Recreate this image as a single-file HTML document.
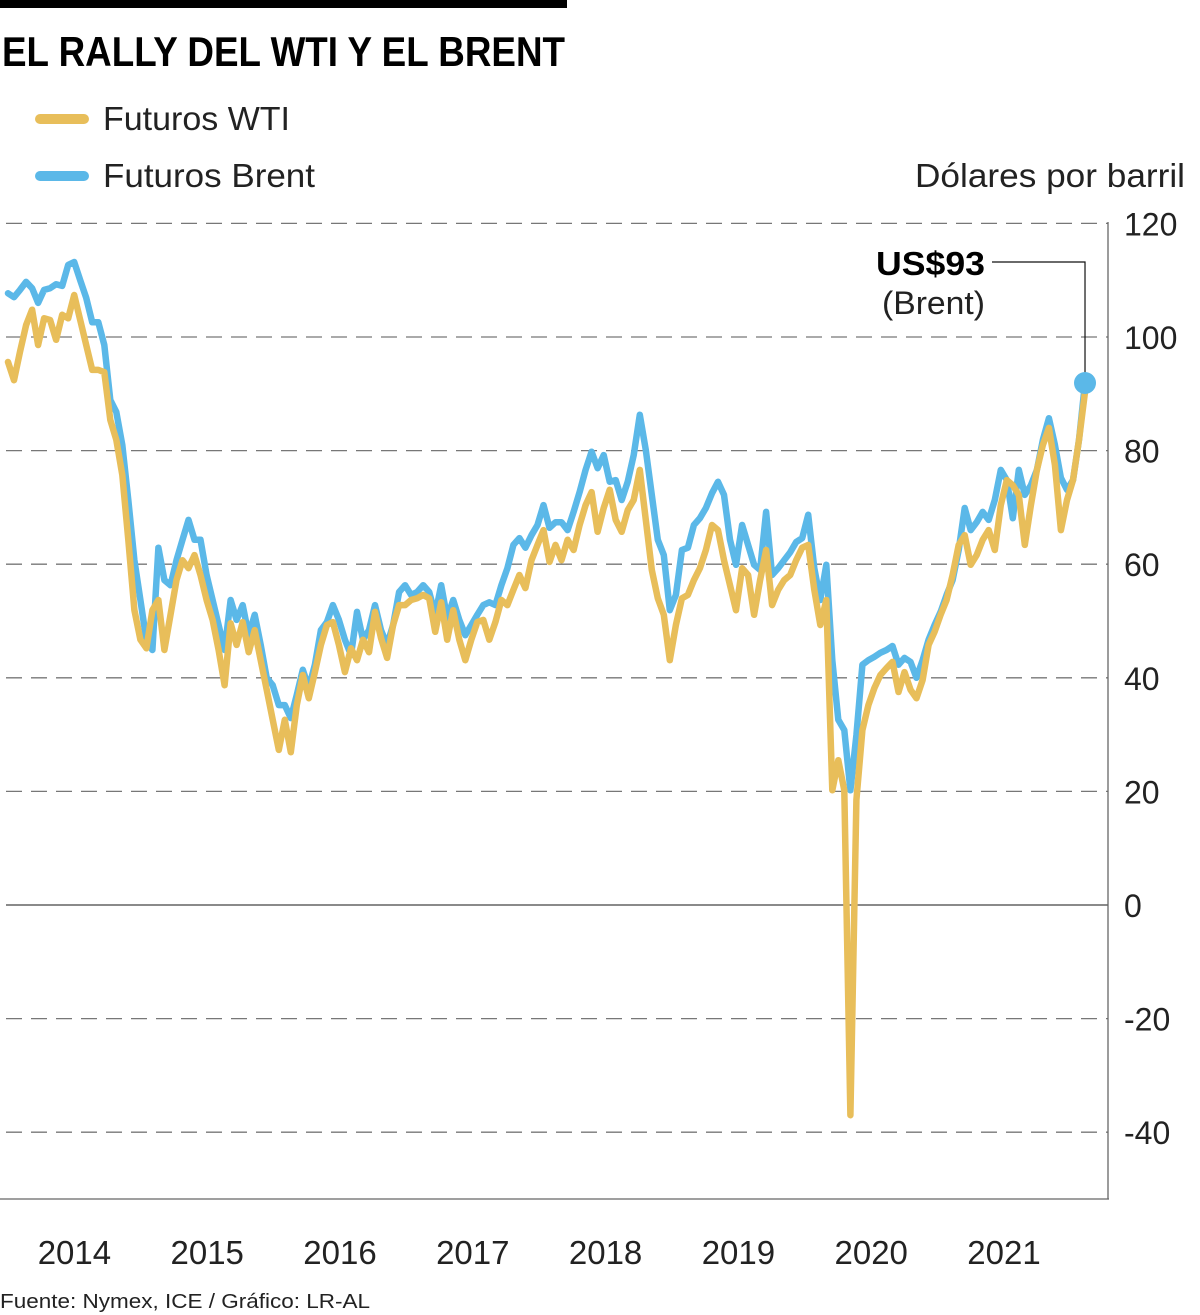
<!DOCTYPE html>
<html><head><meta charset="utf-8"><style>
html,body{margin:0;padding:0;background:#fff;}
svg{display:block;font-family:"Liberation Sans",sans-serif;}
</style></head><body>
<svg id="chart" width="1200" height="1315" viewBox="0 0 1200 1315" xmlns="http://www.w3.org/2000/svg">
<rect x="0" y="0" width="567" height="8" fill="#000"/>
<text x="2" y="66" font-size="42" font-weight="bold" textLength="563" lengthAdjust="spacingAndGlyphs">EL RALLY DEL WTI Y EL BRENT</text>
<line x1="40" y1="119" x2="84" y2="119" stroke="#e8be5a" stroke-width="10" stroke-linecap="round"/>
<text x="103" y="130" font-size="33" fill="#222" textLength="187" lengthAdjust="spacingAndGlyphs">Futuros WTI</text>
<line x1="40" y1="176" x2="84" y2="176" stroke="#5bb8e8" stroke-width="10" stroke-linecap="round"/>
<text x="103" y="187" font-size="33" fill="#222" textLength="212" lengthAdjust="spacingAndGlyphs">Futuros Brent</text>
<text x="1185" y="187" font-size="33" fill="#222" text-anchor="end" textLength="270" lengthAdjust="spacingAndGlyphs">Dólares por barril</text>
<g id="grid"></g>
<g id="series"></g>
<g id="xlabels"></g>
<text x="985" y="275" font-size="33" font-weight="bold" text-anchor="end" textLength="109" lengthAdjust="spacingAndGlyphs">US$93</text>
<text x="985" y="314" font-size="32" fill="#222" text-anchor="end" textLength="103" lengthAdjust="spacingAndGlyphs">(Brent)</text>
<text x="0" y="1308" font-size="20" fill="#222" textLength="370" lengthAdjust="spacingAndGlyphs">Fuente: Nymex, ICE / Gráfico: LR-AL</text>
</svg>
<script>
const yTicks = [120, 100, 80, 60, 40, 20, 0, -20, -40];
const yearLabels = ["2014","2015","2016","2017","2018","2019","2020","2021"];
const startYear = 2014;
const endYear = 2022.11;
const brent = [
107.7,107,108.3,109.7,108.6,106,108.3,108.6,109.3,109,
112.7,113.2,110,106.9,102.6,102.6,98.6,88.9,86.8,81,
71.3,60.7,53.7,46.6,44.9,62.9,57.2,56.3,60.7,64.3,
67.8,64.3,64.3,58.1,53.7,49.3,44.9,53.7,50.2,52.8,
47.5,51.1,45.8,40,38.7,35.2,35.2,32.9,37,41.4,
38.2,42.3,48.4,49.8,52.8,50.2,46.7,44,51.6,46.7,
48.4,52.8,48.4,45.8,49.3,55.1,56.3,54.6,55.1,56.3,
55.1,51.1,56.3,50.5,53.7,50.2,47.5,49.3,51.1,52.8,
53.3,52.8,56.3,59.3,63.4,64.6,62.9,65.1,66.9,70.4,
66.4,67.4,67.4,66,69.2,72.7,76.6,79.8,76.9,79.2,
74.5,74.8,71.3,74.5,79.2,86.3,80.1,72.2,64.3,61.6,
51.9,54.6,62.5,62.9,66.9,68.1,69.9,72.5,74.5,72.2,
64.3,59.9,66.9,63.4,59.9,59,69.2,58.1,59.3,60.7,
62.1,63.9,64.6,68.7,59.3,53.7,59.9,43.1,32.6,30.8,
20.2,29.9,42.3,43.1,43.7,44.4,44.9,45.6,42.3,43.5,
42.8,40,43.1,46.7,49.3,51.6,54.6,57.2,62.5,69.9,
66,67.4,69.2,67.8,71.3,76.6,74.8,68.1,76.6,72.2,
73.9,76.6,81.9,85.7,81,75.2,73.1,74.8,81.9,91.9];
const wti = [
95.6,92.4,97.4,102.1,104.8,98.6,103.3,103,99.5,103.9,
103.3,107.4,103,98.6,94.2,94.2,93.8,85.4,81.9,75.7,
64.3,51.9,46.7,45.2,51.9,53.7,44.9,51.1,57.2,60.7,
59.3,61.6,58.1,53.7,50.2,44.9,38.7,49.6,45.8,49.8,
44.5,48.4,43.1,37.9,32.6,27.3,32.6,26.9,35.2,40.5,
36.4,41,45.8,49.3,49.8,45.8,41,45.2,43.1,46.7,
44.5,51.6,47,43.5,49.3,52.8,52.8,53.7,54,54.6,
54,48.1,53.3,46.7,51.9,46.7,43.1,46.7,49.8,50.2,
46.7,49.8,53.7,52.8,55.5,58.1,55.8,60.7,63.4,66,
60.4,63.4,60.7,64.3,62.5,66.9,70.4,72.7,65.7,69.9,
73.1,67.8,65.7,69.5,71.3,76.6,67.8,59,54,51.1,
43.1,49.3,54,54.6,57.2,59.3,62.5,66.9,66,60.7,
56.3,51.9,59.3,58.1,51.1,57.2,62.5,52.8,55.5,57.2,
58.1,60.7,62.9,63.4,55.5,49.3,53.7,20.2,25.5,20.2,
-37,18.5,30.8,35.2,38.2,40.5,41.7,42.8,37.5,41,
37.9,36.4,39.6,45.8,48.1,51.1,53.7,58.1,63.4,65.1,
59.9,61.6,64.3,66,62.5,70.4,74.8,73.9,72.2,63.4,
70.4,76.6,81,84,77.5,66,71.3,74.8,81.9,90.3];

const NS = "http://www.w3.org/2000/svg";
const X0 = 8, PXYEAR = 132.8;
function xYear(y){ return X0 + (y - startYear) * PXYEAR; }
function xIdx(i, n){ return xYear(startYear + (endYear - startYear) * i / (n - 1)); }
function yScale(v){ return 905 - v * 5.68; }
function mk(tag, attrs, parent){ const e = document.createElementNS(NS, tag); for (const k in attrs) e.setAttribute(k, attrs[k]); parent.appendChild(e); return e; }

const grid = document.getElementById('grid');
yTicks.forEach(t => {
  const y = yScale(t);
  const l = mk('line', {x1: 6, x2: 1108, y1: y, y2: y, stroke: t === 0 ? '#444' : '#777', 'stroke-width': t === 0 ? 1.3 : 1.3, 'stroke-dasharray': t === 0 ? 'none' : '16 9'}, grid);
  
  
  const tx = mk('text', {x: 1124, y: y + 12, 'font-size': 32, fill: '#222'}, grid);
  tx.textContent = String(t);
  
  
});
const ax = mk('line', {x1: 1108, x2: 1108, y1: 222, y2: 1199, stroke: '#666', 'stroke-width': 1.3}, grid);


const bx = mk('line', {x1: 1108, x2: 1108, y1: 222, y2: 1199, stroke: 'none'}, grid);
const bottom = mk('line', {x1: 0, x2: 1109, y1: 1199, y2: 1199, stroke: '#666', 'stroke-width': 1.3}, grid);



const xl = document.getElementById('xlabels');
yearLabels.forEach(lbl => {
  const t = mk('text', {x: xYear(+lbl + 0.5), y: 1264, 'font-size': 33, 'text-anchor': 'middle', fill: '#222'}, xl);
  t.textContent = lbl;
  
  
});

const sg = document.getElementById('series');
function drawLine(vals, color, name){
  const d = vals.map((v, i) => (i ? 'L' : 'M') + xIdx(i, vals.length).toFixed(1) + ',' + yScale(v).toFixed(1)).join(' ');
  const p = mk('path', {d: d, fill: 'none', stroke: color, 'stroke-width': 6.5, 'stroke-linejoin': 'round', 'stroke-linecap': 'round'}, sg);
  
  
}
drawLine(brent, '#5bb8e8', 'brent-line');
drawLine(wti, '#e8be5a', 'wti-line');

const lx = xIdx(brent.length - 1, brent.length), ly = yScale(brent[brent.length - 1]);
const lead = mk('polyline', {points: `992,262 ${lx},262 ${lx},${ly}`, fill: 'none', stroke: '#111', 'stroke-width': 1.2}, sg);


const dot = mk('circle', {cx: lx, cy: ly, r: 11, fill: '#5bb8e8'}, sg);


</script>
</body></html>
